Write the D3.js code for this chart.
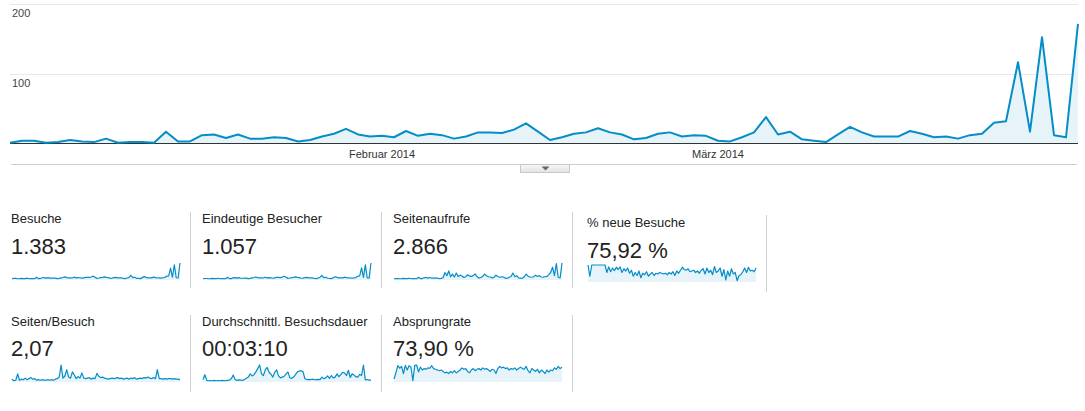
<!DOCTYPE html>
<html><head><meta charset="utf-8">
<script src="https://cdn.jsdelivr.net/npm/d3@7"></script>
<style>
body{margin:0;background:#fff;}
svg{display:block;font-family:Arial,"Liberation Sans",sans-serif;}
</style></head>
<body><svg id="c" width="1085" height="411"></svg>
<script>
// ---------- DATA ----------
const startDate = "2014-01-01";
const endDate = "2014-03-31";
const visits = [1,4,4,1,2,5,3,2,7,1,2,2,1,17,3,3,12,13,8,13,7,7,9,8,3,5,10,14,21,13,
  10,11,9,18,11,14,12,7,10,16,16,15,20,29,17,5,9,14,16,22,16,13,6,8,14,16,10,12,11,4,
  3,9,16,38,13,17,6,4,2,13,24,16,10,10,10,18,14,9,10,7,12,14,30,32,117,17,153,12,9,172];
const uniqueVisitors = [1,3,3,1,2,4,2,2,5,1,2,2,1,13,2,2,9,10,6,10,5,5,7,6,2,4,8,11,16,10,
  8,8,7,14,8,11,9,5,8,12,12,11,15,22,13,4,7,11,12,17,12,10,5,6,11,12,8,9,8,3,
  2,7,12,29,10,13,5,3,2,10,18,12,8,8,8,14,11,7,8,5,9,11,23,25,92,13,118,9,7,133];
const pageviews = [2,6,6,2,4,8,5,4,12,2,4,5,2,30,5,5,22,26,14,25,12,12,16,14,6,10,20,120,60,150,
  40,90,35,110,45,70,55,25,40,80,50,45,60,95,40,15,25,45,90,60,40,35,15,30,70,45,30,40,35,12,
  10,30,45,110,40,60,20,15,8,40,90,50,35,30,40,70,45,60,35,30,40,45,80,120,220,60,290,25,20,300];
const newVisitsPct = [100,70,100,100,100,100,100,100,100,100,80,95,82,92,85,94,88,95,80,90,84,92,78,86,70,80,72,84,66,78,
  74,82,70,76,80,72,78,76,80,78,76,78,74,80,76,82,72,84,78,86,94,88,86,90,82,84,86,80,84,78,
  86,90,76,92,80,86,74,96,80,84,92,70,88,60,84,70,90,76,80,58,72,74,82,92,80,94,84,86,82,92];
const pagesPerVisit = [1.8,1.5,1.6,2.8,1.6,1.8,1.7,2.0,1.7,1.9,2.1,1.8,1.9,1.6,1.7,1.6,1.7,1.6,1.6,1.7,1.6,1.7,1.6,1.8,1.9,2.2,4.5,2.0,2.4,3.6,
  2.2,2.0,3.2,2.6,1.9,2.3,2.0,3.0,2.0,1.9,2.0,2.1,1.8,2.0,1.9,2.9,2.3,2.1,2.2,2.0,1.9,1.8,1.9,2.0,1.9,2.0,2.1,1.9,2.0,1.8,
  1.9,2.0,1.8,2.0,1.9,2.1,1.8,1.9,2.0,1.9,2.1,2.0,2.2,2.0,1.9,2.1,1.9,3.6,1.9,1.9,1.8,1.9,1.8,1.9,1.9,1.8,1.9,1.8,1.8,1.7];
const avgDurationSec = [60,180,40,30,35,30,40,30,35,30,40,35,30,40,45,80,170,60,40,50,45,40,60,90,120,200,150,180,250,330,
  420,200,160,300,360,240,190,120,240,300,150,100,120,140,200,250,100,90,120,180,250,270,280,250,80,60,60,60,70,55,
  60,65,60,120,80,100,150,90,160,100,120,200,130,180,240,220,160,290,110,200,170,130,120,190,160,420,50,60,45,45];
const bounceRate = [55,72,92,85,90,70,93,80,92,88,50,93,94,75,88,80,84,82,86,85,92,84,82,80,78,80,76,72,74,70,
  76,72,78,72,76,80,86,82,84,76,72,80,84,78,82,84,80,86,82,84,80,76,82,80,70,84,90,86,88,84,
  86,80,84,82,86,80,84,88,84,82,90,78,72,84,80,76,82,72,80,76,70,80,74,80,78,86,82,90,84,88];
const yTickValues = [100, 200];
const monthTickDates = ["2014-02-01", "2014-03-01"];
const monthTickLabels = ["Februar 2014", "März 2014"];
const tileLabels = ["Besuche","Eindeutige Besucher","Seitenaufrufe","% neue Besuche","Seiten/Besuch","Durchschnittl. Besuchsdauer","Absprungrate"];
const tileValues = ["1.383","1.057","2.866","75,92 %","2,07","00:03:10","73,90 %"];
const tileSeries = [visits, uniqueVisitors, pageviews, newVisitsPct, pagesPerVisit, avgDurationSec, bounceRate];

// ---------- RENDER ----------
const BLUE = "#058DC7", FILL = "#E6F4FA";
const svg = d3.select("#c");
const parse = d3.timeParse("%Y-%m-%d");
const dates = d3.timeDay.range(parse(startDate), d3.timeDay.offset(parse(endDate), 1));

const x = d3.scaleTime().domain([dates[0], dates[dates.length - 1]]).range([10, 1078]);
const y = d3.scaleLinear().domain([0, 200]).range([143.5, 4.5]);

// gridlines + y labels
const g = svg.append("g");
yTickValues.forEach(v => {
  const yy = Math.floor(y(v)) + 0.5;
  g.append("line").attr("x1", 10).attr("x2", 1078).attr("y1", yy).attr("y2", yy)
    .attr("stroke", "#e8e8e8").attr("stroke-width", 1);
  g.append("text").attr("x", 12).attr("y", yy + 12).attr("font-size", 11).attr("fill", "#444").text(v);
});

// area + line
const data = visits.map((v, i) => ({d: dates[i], v}));
g.append("path").datum(data)
  .attr("d", d3.area().x(p => x(p.d)).y0(y(0)).y1(p => y(p.v)))
  .attr("fill", FILL);
g.append("line").attr("x1", 10).attr("x2", 1078).attr("y1", 143.5).attr("y2", 143.5)
  .attr("stroke", "#333").attr("stroke-width", 1);
g.append("path").datum(data)
  .attr("d", d3.line().x(p => x(p.d)).y(p => y(p.v)))
  .attr("fill", "none").attr("stroke", BLUE).attr("stroke-width", 2).attr("stroke-linejoin", "round");

// month labels
monthTickDates.forEach((s, k) => {
  g.append("text").attr("x", x(parse(s))).attr("y", 158).attr("text-anchor", "middle")
    .attr("font-size", 11).attr("fill", "#333").text(monthTickLabels[k]);
});

// bottom rule + toggle button
g.append("line").attr("x1", 11).attr("x2", 1077).attr("y1", 164.5).attr("y2", 164.5)
  .attr("stroke", "#cfcfcf");
const defs = svg.append("defs");
const grad = defs.append("linearGradient").attr("id", "btn").attr("x1", 0).attr("x2", 0).attr("y1", 0).attr("y2", 1);
grad.append("stop").attr("offset", "0%").attr("stop-color", "#f8f8f8");
grad.append("stop").attr("offset", "100%").attr("stop-color", "#e2e2e2");
g.append("rect").attr("x", 520.5).attr("y", 164.5).attr("width", 49).attr("height", 8)
  .attr("fill", "url(#btn)").attr("stroke", "#c8c8c8");
g.append("path").attr("d", "M541.5,166.5 L549.5,166.5 L545.5,170.5 Z").attr("fill", "#666");

// tiles
tileLabels.forEach((label, k) => {
  const col = k % 4, row = Math.floor(k / 4);
  const special = (k === 3);
  const left = col * 191 + (special ? 3 : 0);
  const off = row * 103 + (special ? 4 : 0);
  const t = svg.append("g");
  t.append("text").attr("x", left + 11).attr("y", 223 + off).attr("font-size", 13)
    .attr("fill", "#222").text(label);
  t.append("text").attr("x", left + 11).attr("y", 254 + off - row).attr("font-size", 22)
    .attr("fill", "#222").text(tileValues[k]);
  // separator
  t.append("line").attr("x1", left + 190.5).attr("x2", left + 190.5)
    .attr("y1", 212 + off - (special ? 1 : 0)).attr("y2", 288 + off + row)
    .attr("stroke", "#d0d0d0");
  // sparkline
  const vals = tileSeries[k];
  const lo = d3.min(vals), hi = d3.max(vals);
  const sparkOff = row * 102 + (special ? 2 : 0);
  const sx = d3.scaleLinear().domain([0, vals.length - 1]).range([left + 12, left + 180]);
  const sy = d3.scaleLinear().domain([lo - (hi - lo) * 0.08, hi]).range([280 + sparkOff, 263 + sparkOff]);
  t.append("path").datum(vals)
    .attr("d", d3.area().x((v, i) => sx(i)).y0(280 + sparkOff).y1(v => sy(v)))
    .attr("fill", FILL);
  t.append("path").datum(vals)
    .attr("d", d3.line().x((v, i) => sx(i)).y(v => sy(v)))
    .attr("fill", "none").attr("stroke", BLUE).attr("stroke-width", 1.2).attr("stroke-linejoin", "round");
});
</script>
</body></html>
